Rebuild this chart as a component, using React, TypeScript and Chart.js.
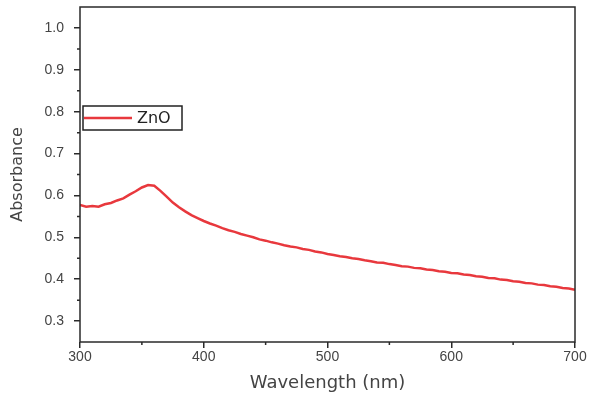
import React, { useEffect, useRef } from "react";
import { Chart, registerables } from "chart.js";

Chart.register(...registerables);

// ---- data ----
const wavelengths = [
  300, 305, 310, 315, 320, 325, 330, 335, 340, 345,
  350, 355, 360, 365, 370, 375, 380, 385, 390, 395,
  400, 405, 410, 415, 420, 425, 430, 435, 440, 445,
  450, 455, 460, 465, 470, 475, 480, 485, 490, 495,
  500, 505, 510, 515, 520, 525, 530, 535, 540, 545,
  550, 555, 560, 565, 570, 575, 580, 585, 590, 595,
  600, 605, 610, 615, 620, 625, 630, 635, 640, 645,
  650, 655, 660, 665, 670, 675, 680, 685, 690, 695,
  700,
];
const absorbance = [
  0.577, 0.573, 0.575, 0.573, 0.579, 0.582, 0.588, 0.593, 0.602, 0.610,
  0.619, 0.625, 0.623, 0.611, 0.597, 0.583, 0.572, 0.562, 0.553, 0.546,
  0.539, 0.533, 0.528, 0.522, 0.517, 0.513, 0.508, 0.504, 0.500, 0.495,
  0.492, 0.488, 0.485, 0.481, 0.478, 0.476, 0.472, 0.470, 0.466, 0.464,
  0.460, 0.458, 0.455, 0.453, 0.450, 0.448, 0.445, 0.443, 0.440, 0.439,
  0.436, 0.434, 0.431, 0.430, 0.427, 0.426, 0.423, 0.422, 0.419, 0.418,
  0.415, 0.414, 0.411, 0.410, 0.407, 0.406, 0.403, 0.402, 0.399, 0.398,
  0.395, 0.394, 0.391, 0.390, 0.387, 0.386, 0.383, 0.382, 0.379, 0.378,
  0.375,
];
const xTicks = [300, 400, 500, 600, 700];
const yTicks = [0.3, 0.4, 0.5, 0.6, 0.7, 0.8, 0.9, 1.0];
const xMinorTicks = [350, 450, 550, 650];
const yMinorTicks = [0.35, 0.45, 0.55, 0.65, 0.75, 0.85, 0.95];
const seriesLabel = "ZnO";
const xTitle = "Wavelength (nm)";
const yTitle = "Absorbance";

const LINE_COLOR = "#e8383d";
const AXIS_COLOR = "#2a2a2a";

const framePlugin = {
  id: "frame",
  afterDraw(chart: any) {
    const { ctx, chartArea: a, scales } = chart;
    ctx.save();
    ctx.strokeStyle = AXIS_COLOR;
    ctx.lineWidth = 1.5;
    ctx.beginPath();
    xMinorTicks.forEach((v) => {
      const x = scales.x.getPixelForValue(v);
      ctx.moveTo(x, a.bottom);
      ctx.lineTo(x, a.bottom + 3);
    });
    yMinorTicks.forEach((v) => {
      const y = scales.y.getPixelForValue(v);
      ctx.moveTo(a.left, y);
      ctx.lineTo(a.left - 3, y);
    });
    ctx.stroke();
    ctx.strokeRect(a.left, a.top, a.right - a.left, a.bottom - a.top);

    // legend box
    const lx = a.left + 3;
    const ly = a.top + 99;
    const lw = 99;
    const lh = 24;
    ctx.fillStyle = "#fff";
    ctx.fillRect(lx, ly, lw, lh);
    ctx.strokeStyle = "#222";
    ctx.lineWidth = 1.5;
    ctx.strokeRect(lx, ly, lw, lh);
    ctx.strokeStyle = LINE_COLOR;
    ctx.lineWidth = 2.5;
    ctx.beginPath();
    ctx.moveTo(lx + 1, ly + lh / 2);
    ctx.lineTo(lx + 49, ly + lh / 2);
    ctx.stroke();
    ctx.fillStyle = "#222";
    ctx.font = '16px "DejaVu Sans"';
    ctx.textBaseline = "middle";
    ctx.textAlign = "left";
    ctx.fillText(seriesLabel, lx + 54, ly + lh / 2 + 1);
    ctx.restore();
  },
};

export default function App() {
  const canvasRef = useRef<HTMLCanvasElement | null>(null);

  useEffect(() => {
    if (!canvasRef.current) return;
    const chart = new Chart(canvasRef.current, {
      type: "line",
      data: {
        datasets: [
          {
            label: seriesLabel,
            data: wavelengths.map((w, i) => ({ x: w, y: absorbance[i] })),
            borderColor: LINE_COLOR,
            borderWidth: 2.5,
            pointRadius: 0,
            tension: 0,
            fill: false,
          },
        ],
      },
      options: {
        animation: false,
        responsive: true,
        maintainAspectRatio: false,
        layout: { padding: { top: 7, right: 15, bottom: 0, left: 0 } },
        plugins: {
          legend: { display: false },
          tooltip: { enabled: false },
        },
        scales: {
          x: {
            type: "linear",
            min: 300,
            max: 700,
            afterFit: (s: any) => {
              s.height = 57;
              s.paddingLeft = 0;
              s.paddingRight = 0;
            },
            afterBuildTicks: (s: any) => {
              s.ticks = xTicks.map((v) => ({ value: v }));
            },
            grid: {
              display: true,
              drawOnChartArea: false,
              drawTicks: true,
              tickLength: 6,
              color: AXIS_COLOR,
              lineWidth: 1.5,
            },
            border: { display: false },
            ticks: {
              color: "#444",
              font: { family: '"Liberation Sans", Arial', size: 14 },
              padding: 1,
              maxRotation: 0,
              callback: (v: any) => String(v),
            },
            title: {
              display: true,
              text: xTitle,
              color: "#444",
              font: { family: '"DejaVu Sans"', size: 18 },
              padding: { top: 0, bottom: 5 },
            },
          },
          y: {
            type: "linear",
            min: 0.25,
            max: 1.05,
            afterFit: (s: any) => {
              s.width = 80;
              s.paddingTop = 0;
              s.paddingBottom = 0;
            },
            afterBuildTicks: (s: any) => {
              s.ticks = yTicks.map((v) => ({ value: v }));
            },
            grid: {
              display: true,
              drawOnChartArea: false,
              drawTicks: true,
              tickLength: 6,
              color: AXIS_COLOR,
              lineWidth: 1.5,
            },
            border: { display: false },
            ticks: {
              color: "#444",
              font: { family: '"Liberation Sans", Arial', size: 14 },
              padding: 10,
              callback: (v: any) => Number(v).toFixed(1),
            },
            title: {
              display: true,
              text: yTitle,
              color: "#444",
              font: { family: '"DejaVu Sans"', size: 16 },
              padding: { top: 8, bottom: 0 },
            },
          },
        },
      },
      plugins: [framePlugin],
    });
    return () => chart.destroy();
  }, []);

  return (
    <div
      style={{
        position: "fixed",
        left: 0,
        top: 0,
        width: 590,
        height: 399,
        background: "#fff",
      }}
    >
      <canvas ref={canvasRef} />
    </div>
  );
}
